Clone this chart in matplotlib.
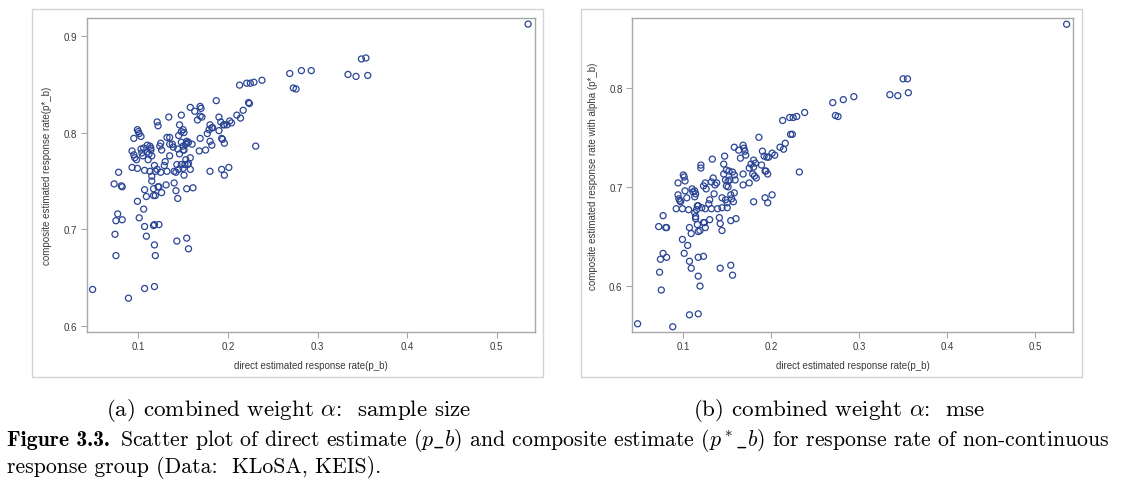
import matplotlib
matplotlib.use("Agg")
import matplotlib.pyplot as plt
from matplotlib.patches import Rectangle

# ---------------- data ----------------
# panel (a): combined weight alpha = sample size
direct_a = [0.535, 0.349, 0.354, 0.334, 0.343, 0.356, 0.269, 0.282, 0.293, 0.273, 0.276,
            0.213, 0.221, 0.225, 0.229, 0.238, 0.223, 0.224, 0.187, 0.217, 0.210, 0.214,
            0.202, 0.204, 0.199, 0.190, 0.192, 0.195, 0.196, 0.190, 0.193, 0.194, 0.196,
            0.231, 0.193, 0.201, 0.196, 0.180, 0.180, 0.182, 0.179, 0.183, 0.177, 0.180,
            0.182, 0.175, 0.169, 0.168, 0.158, 0.163, 0.169, 0.170, 0.169, 0.171, 0.166,
            0.148, 0.134, 0.146, 0.150, 0.151, 0.148, 0.145, 0.154, 0.153, 0.148, 0.150,
            0.154, 0.156, 0.160, 0.150, 0.151, 0.146, 0.158, 0.153, 0.155, 0.152, 0.156,
            0.148, 0.150, 0.158, 0.151, 0.154, 0.161, 0.143, 0.145, 0.142, 0.140, 0.140,
            0.142, 0.144, 0.143, 0.154, 0.156, 0.132, 0.135, 0.135, 0.138, 0.139, 0.135,
            0.144, 0.130, 0.129, 0.132, 0.125, 0.124, 0.126, 0.121, 0.122, 0.114, 0.112,
            0.115, 0.110, 0.113, 0.111, 0.118, 0.121, 0.119, 0.113, 0.107, 0.125, 0.115,
            0.115, 0.122, 0.123, 0.131, 0.126, 0.117, 0.117, 0.119, 0.107, 0.109, 0.099,
            0.106, 0.101, 0.107, 0.109, 0.117, 0.118, 0.123, 0.118, 0.119, 0.107, 0.118,
            0.089, 0.049, 0.074, 0.075, 0.075, 0.077, 0.082, 0.073, 0.078, 0.081, 0.082,
            0.093, 0.095, 0.096, 0.098, 0.093, 0.099, 0.095, 0.099, 0.100, 0.101, 0.103,
            0.103, 0.105, 0.104, 0.106, 0.110, 0.114]
composite_a = [0.912, 0.876, 0.877, 0.860, 0.858, 0.859, 0.861, 0.864, 0.864, 0.846, 0.845,
               0.849, 0.851, 0.851, 0.852, 0.854, 0.831, 0.830, 0.833, 0.823, 0.818, 0.815,
               0.812, 0.810, 0.808, 0.816, 0.811, 0.808, 0.808, 0.802, 0.794, 0.793, 0.789,
               0.786, 0.762, 0.764, 0.756, 0.760, 0.808, 0.805, 0.803, 0.805, 0.799, 0.791,
               0.787, 0.782, 0.794, 0.781, 0.826, 0.822, 0.827, 0.825, 0.817, 0.816, 0.813,
               0.818, 0.816, 0.808, 0.803, 0.800, 0.801, 0.797, 0.791, 0.788, 0.790, 0.786,
               0.789, 0.790, 0.788, 0.782, 0.782, 0.778, 0.774, 0.772, 0.767, 0.767, 0.768,
               0.767, 0.763, 0.762, 0.756, 0.742, 0.743, 0.767, 0.762, 0.759, 0.760, 0.748,
               0.740, 0.732, 0.688, 0.691, 0.680, 0.795, 0.795, 0.788, 0.788, 0.785, 0.776,
               0.783, 0.770, 0.766, 0.760, 0.789, 0.786, 0.782, 0.811, 0.807, 0.782, 0.778,
               0.776, 0.787, 0.786, 0.772, 0.766, 0.762, 0.760, 0.760, 0.761, 0.759, 0.755,
               0.750, 0.744, 0.744, 0.746, 0.738, 0.742, 0.735, 0.735, 0.741, 0.734, 0.729,
               0.721, 0.712, 0.703, 0.693, 0.704, 0.705, 0.705, 0.684, 0.673, 0.639, 0.641,
               0.629, 0.638, 0.695, 0.673, 0.709, 0.716, 0.710, 0.747, 0.759, 0.745, 0.744,
               0.781, 0.777, 0.774, 0.772, 0.764, 0.763, 0.794, 0.803, 0.801, 0.799, 0.796,
               0.783, 0.776, 0.779, 0.784, 0.780, 0.784]

# panel (b): combined weight alpha = mse
direct_b = [0.536, 0.350, 0.355, 0.335, 0.344, 0.356, 0.270, 0.282, 0.294, 0.273, 0.276,
            0.213, 0.221, 0.225, 0.229, 0.238, 0.222, 0.224, 0.186, 0.216, 0.210, 0.214,
            0.201, 0.204, 0.190, 0.192, 0.195, 0.197, 0.189, 0.193, 0.194, 0.196, 0.232,
            0.193, 0.201, 0.196, 0.180, 0.180, 0.182, 0.177, 0.175, 0.179, 0.181, 0.183,
            0.175, 0.180, 0.168, 0.168, 0.168, 0.169, 0.170, 0.158, 0.163, 0.171, 0.165,
            0.147, 0.146, 0.149, 0.152, 0.146, 0.156, 0.158, 0.148, 0.151, 0.153, 0.159,
            0.149, 0.151, 0.158, 0.154, 0.155, 0.157, 0.148, 0.150, 0.150, 0.144, 0.144,
            0.139, 0.141, 0.142, 0.144, 0.154, 0.160, 0.133, 0.134, 0.132, 0.136, 0.138,
            0.135, 0.130, 0.129, 0.132, 0.126, 0.125, 0.123, 0.120, 0.120, 0.117, 0.121,
            0.125, 0.115, 0.113, 0.113, 0.114, 0.113, 0.110, 0.111, 0.100, 0.101, 0.102,
            0.102, 0.104, 0.097, 0.094, 0.095, 0.096, 0.092, 0.099, 0.106, 0.094, 0.114,
            0.114, 0.116, 0.123, 0.124, 0.125, 0.117, 0.119, 0.116, 0.107, 0.109, 0.130,
            0.099, 0.105, 0.101, 0.107, 0.109, 0.117, 0.123, 0.117, 0.119, 0.107, 0.117,
            0.088, 0.048, 0.142, 0.154, 0.156, 0.072, 0.077, 0.080, 0.081, 0.074, 0.077,
            0.081, 0.073, 0.075]
composite_b = [0.864, 0.809, 0.809, 0.793, 0.792, 0.795, 0.785, 0.788, 0.791, 0.772, 0.771,
               0.767, 0.770, 0.770, 0.771, 0.775, 0.753, 0.753, 0.750, 0.744, 0.740, 0.738,
               0.734, 0.732, 0.736, 0.731, 0.730, 0.730, 0.722, 0.716, 0.716, 0.713, 0.715,
               0.689, 0.692, 0.684, 0.720, 0.727, 0.724, 0.723, 0.719, 0.713, 0.711, 0.709,
               0.704, 0.685, 0.713, 0.702, 0.742, 0.739, 0.736, 0.740, 0.737, 0.732, 0.729,
               0.731, 0.723, 0.717, 0.716, 0.713, 0.715, 0.712, 0.707, 0.706, 0.707, 0.707,
               0.701, 0.700, 0.694, 0.692, 0.688, 0.685, 0.687, 0.684, 0.679, 0.689, 0.679,
               0.678, 0.669, 0.663, 0.656, 0.666, 0.668, 0.728, 0.709, 0.705, 0.702, 0.704,
               0.693, 0.687, 0.683, 0.678, 0.698, 0.704, 0.701, 0.722, 0.719, 0.681, 0.679,
               0.678, 0.677, 0.674, 0.696, 0.693, 0.690, 0.698, 0.695, 0.712, 0.710, 0.706,
               0.696, 0.689, 0.685, 0.692, 0.688, 0.686, 0.678, 0.678, 0.677, 0.704, 0.668,
               0.670, 0.681, 0.664, 0.664, 0.659, 0.655, 0.656, 0.662, 0.659, 0.653, 0.667,
               0.647, 0.641, 0.633, 0.625, 0.618, 0.629, 0.630, 0.610, 0.600, 0.571, 0.572,
               0.559, 0.562, 0.618, 0.621, 0.611, 0.660, 0.671, 0.659, 0.659, 0.627, 0.633,
               0.629, 0.614, 0.596]

xticks = [0.1, 0.2, 0.3, 0.4, 0.5]
yticks_a = [0.6, 0.7, 0.8, 0.9]
yticks_b = [0.6, 0.7, 0.8]

xlabel = "direct estimated response rate(p_b)"
ylabel_a = "composite estimated response rate(p*_b)"
ylabel_b = "composite estimated response rate with alpha (p*_b)"
subcap_a = r"(a) combined weight $\alpha$:  sample size"
subcap_b = r"(b) combined weight $\alpha$:  mse"
caption_bold = "Figure 3.3."
caption1 = (r"Scatter plot of direct estimate ($p\_b$) and composite "
            r"estimate ($p^*\_b$) for response rate of non-continuous")
caption2 = "response group (Data:  KLoSA, KEIS)."

# ---------------- style ----------------
plt.rcParams['mathtext.fontset'] = 'cm'
plt.rcParams['axes.unicode_minus'] = False
mark_col = '#2b4596'
frame_col = '#a8a8a8'
text_col = '#3a3a3a'
sans = ['Liberation Sans', 'DejaVu Sans']

W, H = 1130, 485
fig = plt.figure(figsize=(W / 100, H / 100), dpi=100)

# outer light boxes around each panel image
for x0, x1 in [(32, 543), (581, 1082)]:
    fig.patches.append(Rectangle((x0 / W, 1 - 378 / H), (x1 - x0) / W, 368 / H,
                                 transform=fig.transFigure, fill=False,
                                 edgecolor='#d4d4d4', linewidth=1.0))

def panel(rect, xs, ys, xlim, ylim, yticks, ylabel):
    ax = fig.add_axes(rect)
    ax.scatter(xs, ys, s=19, facecolors='none', edgecolors=mark_col, linewidths=0.9)
    ax.set_xlim(*xlim)
    ax.set_ylim(*ylim)
    ax.set_xticks(xticks)
    ax.set_yticks(yticks)
    ax.set_xticklabels([f"{v:g}" for v in xticks])
    ax.set_yticklabels([f"{v:g}" for v in yticks])
    for sp in ax.spines.values():
        sp.set_color(frame_col)
        sp.set_linewidth(1.0)
    ax.tick_params(colors=frame_col, labelcolor=text_col, length=4, width=0.8,
                   labelsize=7, pad=3)
    for lab in ax.get_xticklabels() + ax.get_yticklabels():
        lab.set_family(sans)
    ax.set_xlabel(xlabel, fontsize=7, color=text_col, family=sans, labelpad=6)
    ax.set_ylabel(ylabel, fontsize=7, color=text_col, family=sans, labelpad=8)
    return ax

panel([86.7 / W, 1 - 332.7 / H, (535 - 86.7) / W, (332.7 - 19.3) / H],
      direct_a, composite_a, (0.0424, 0.5427), (0.5944, 0.918), yticks_a, ylabel_a)
panel([632.3 / W, 1 - 332.7 / H, (1073.3 - 632.3) / W, (332.7 - 19.3) / H],
      direct_b, composite_b, (0.042, 0.5436), (0.554, 0.870), yticks_b, ylabel_b)

serif = 'cmr10'
fs_sub = 16.6
fs_cap = 15.7
fig.text(289 / W, 1 - 411 / H, subcap_a, family=serif, fontsize=fs_sub,
         ha='center', va='center', color='black')
fig.text(839 / W, 1 - 411 / H, subcap_b, family=serif, fontsize=fs_sub,
         ha='center', va='center', color='black')

tb = fig.text(7 / W, 1 - 446 / H, caption_bold, family='cmb10', fontsize=fs_cap,
              ha='left', va='baseline', color='black')
fig.canvas.draw()
bb = tb.get_window_extent(renderer=fig.canvas.get_renderer())
x_after = (bb.x1 + 10) / W
fig.text(x_after, 1 - 446 / H, caption1, family=serif, fontsize=fs_cap,
         ha='left', va='baseline', color='black')
fig.text(7 / W, 1 - 473 / H, caption2, family=serif, fontsize=fs_cap,
         ha='left', va='baseline', color='black')

fig.savefig("out.png", dpi=100)
